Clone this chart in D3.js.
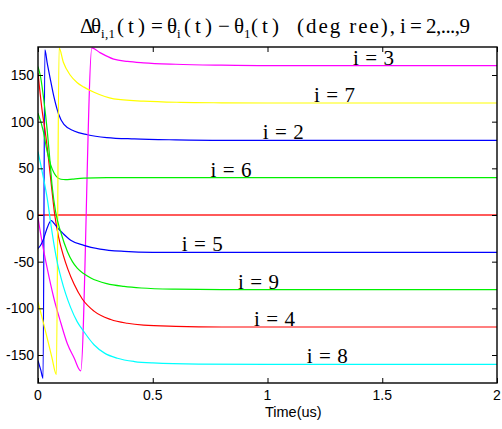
<!DOCTYPE html>
<html>
<head>
<meta charset="utf-8">
<script src="https://cdnjs.cloudflare.com/ajax/libs/d3/7.8.5/d3.min.js"></script>
<style>
  body { margin: 0; background: #fff; }
  .tick-label { font-family: "Liberation Sans", Arial, sans-serif; font-size: 14px; fill: #000; }
  .curve-label { font-family: "Liberation Serif", "Times New Roman", serif; font-size: 21px; fill: #000; }
  .title { font-family: "Liberation Serif", "Times New Roman", serif; fill: #000; }
</style>
</head>
<body>
<div id="chart"></div>
<script>
var svgWidth = 502;
var svgHeight = 429;

var margin = { top: 47, right: 5, bottom: 46, left: 38 };
var width = svgWidth - margin.left - margin.right;
var height = svgHeight - margin.top - margin.bottom;

// tick values
var xTicks = [0, 0.5, 1, 1.5, 2];
var xTickLabels = ["0", "0.5", "1", "1.5", "2"];
var yTicks = [-150, -100, -50, 0, 50, 100, 150];
var yTickLabels = ["-150", "-100", "-50", "0", "50", "100", "150"];

// phase differences [time (us), degrees]
var dtheta1 = [[0, 0], [2, 0]];
var dtheta2 = [[0, -156], [0.012, -166], [0.022, -175], [0.03, 177], [0.04, 163], [0.055, 144], [0.07, 126],
  [0.09, 108], [0.113, 97], [0.157, 90], [0.215, 86], [0.3, 83], [0.42, 81.5], [0.6, 80.5], [0.8, 80], [2, 80]];
var dtheta3 = [[0, -3], [0.02, -32], [0.04, -57], [0.07, -90], [0.1, -116], [0.128, -138], [0.157, -153], [0.186, -167],
  [0.235, 179], [0.27, 174], [0.33, 167], [0.39, 164.5], [0.46, 163], [0.6, 161.5], [0.8, 160.5], [1.0, 160], [2, 160]];
var dtheta4 = [[0, 152], [0.02, 108], [0.03, 92], [0.045, 62], [0.06, 28], [0.073, 0], [0.09, -24], [0.11, -43],
  [0.13, -58], [0.157, -74], [0.193, -90], [0.244, -103], [0.317, -112], [0.389, -116], [0.46, -118], [0.6, -119.3],
  [0.8, -120], [2, -120]];
var dtheta5 = [[0, -36], [0.01, -33], [0.022, -27], [0.037, -16], [0.05, -8], [0.058, -6], [0.07, -9], [0.09, -15],
  [0.11, -20], [0.1425, -27], [0.2, -32.5], [0.27, -36.5], [0.375, -39], [0.5, -40], [2, -40]];
var dtheta6 = [[0, 109], [0.023, 90], [0.04, 68], [0.055, 54], [0.07, 45], [0.085, 40], [0.1, 38.3], [0.12, 37.8],
  [0.15, 38.5], [0.2, 39.5], [0.3, 40], [2, 40]];
var dtheta7 = [[0, -93], [0.02, -112], [0.04, -132], [0.06, -152], [0.08, -171], [0.092, 179], [0.11, 164],
  [0.14, 150], [0.17, 142], [0.2, 137], [0.244, 131.5], [0.33, 124.5], [0.46, 122], [0.62, 120.7], [0.8, 120.2],
  [1.0, 120], [2, 120]];
var dtheta8 = [[0, 68], [0.012, 54], [0.025, 38], [0.04, 18], [0.055, -8], [0.07, -32], [0.085, -52], [0.1, -67],
  [0.12, -84], [0.142, -99], [0.17, -114], [0.2, -125], [0.244, -139], [0.29, -148], [0.346, -153.5], [0.42, -157],
  [0.5, -158.5], [0.7, -159.7], [1.0, -160], [2, -160]];
var dtheta9 = [[0, 159], [0.012, 147], [0.026, 122], [0.04, 91], [0.05, 64], [0.062, 30], [0.077, 3], [0.1, -19],
  [0.128, -39], [0.15, -50], [0.171, -57], [0.2, -63], [0.23, -67.5], [0.3, -73.5], [0.375, -76.5], [0.45, -78.2],
  [0.6, -79.5], [0.8, -80], [2, -80]];

var seriesData = [dtheta1, dtheta2, dtheta3, dtheta4, dtheta5, dtheta6, dtheta7, dtheta8, dtheta9];
var seriesColors = ["#ff5a5a", "#0000ff", "#ff00ff", "#ff0000", "#0000ff", "#00f000", "#ffff00", "#00ffff", "#00f000"];

// curve labels: index i, time where the label starts
var labelIndex = [2, 3, 4, 5, 6, 7, 8, 9];
var labelTime = [0.979, 1.373, 0.941, 0.626, 0.752, 1.203, 1.171, 0.871];

var svg = d3.select("#chart")
  .append("svg")
  .attr("width", svgWidth)
  .attr("height", svgHeight);

svg.append("rect").attr("width", svgWidth).attr("height", svgHeight).attr("fill", "#fff");

var chartGroup = svg.append("g")
  .attr("transform", `translate(${margin.left}, ${margin.top})`);

var xScale = d3.scaleLinear().domain([0, 2]).range([0, width]);
var yScale = d3.scaleLinear().domain([-180, 180]).range([height, 0]);

svg.append("defs").append("clipPath").attr("id", "plotClip")
  .append("rect").attr("width", width).attr("height", height);

// lines
var line = d3.line()
  .x(d => xScale(d[0]))
  .y(d => yScale(d[1]))
  .curve(d3.curveMonotoneX);

var lines = chartGroup.append("g").attr("clip-path", "url(#plotClip)");
seriesData.forEach(function(s, i) {
  lines.append("path")
    .datum(s)
    .attr("d", line)
    .attr("fill", "none")
    .attr("stroke", seriesColors[i])
    .attr("stroke-width", i === 0 ? 2 : 1.2);
});

// axes, MATLAB style ticks pointing inward on all four sides
chartGroup.append("g")
  .attr("transform", `translate(0, ${height})`)
  .call(d3.axisBottom(xScale).tickValues(xTicks).tickSize(-5).tickFormat(""))
  .call(g => g.select(".domain").remove());
chartGroup.append("g")
  .call(d3.axisTop(xScale).tickValues(xTicks).tickSize(-5).tickFormat(""))
  .call(g => g.select(".domain").remove());
chartGroup.append("g")
  .call(d3.axisLeft(yScale).tickValues(yTicks).tickSize(-5).tickFormat(""))
  .call(g => g.select(".domain").remove());
chartGroup.append("g")
  .attr("transform", `translate(${width}, 0)`)
  .call(d3.axisRight(yScale).tickValues(yTicks).tickSize(-5).tickFormat(""))
  .call(g => g.select(".domain").remove());
chartGroup.selectAll(".tick line").attr("stroke", "#000").attr("stroke-width", 1);

chartGroup.append("rect")
  .attr("width", width)
  .attr("height", height)
  .attr("fill", "none")
  .attr("stroke", "#000")
  .attr("stroke-width", 1.4);

// tick labels
chartGroup.selectAll(".xlab")
  .data(xTicks)
  .enter()
  .append("text")
  .attr("class", "tick-label")
  .attr("x", d => xScale(d))
  .attr("y", height + 17)
  .attr("text-anchor", "middle")
  .text((d, i) => xTickLabels[i]);

chartGroup.selectAll(".ylab")
  .data(yTicks)
  .enter()
  .append("text")
  .attr("class", "tick-label")
  .attr("x", -4)
  .attr("y", d => yScale(d) + 5)
  .attr("text-anchor", "end")
  .text((d, i) => yTickLabels[i]);

svg.append("text")
  .attr("class", "tick-label")
  .style("font-size", "14.5px")
  .attr("x", 265)
  .attr("y", 417)
  .text("Time(us)");

// curve labels
chartGroup.selectAll(".clab")
  .data(labelIndex)
  .enter()
  .append("text")
  .attr("class", "curve-label")
  .attr("x", (d, i) => xScale(labelTime[i]))
  .attr("y", d => {
    var s = seriesData[d - 1];
    return yScale(s[s.length - 1][1]) - 1;
  })
  .attr("textLength", 41)
  .attr("lengthAdjust", "spacing")
  .text(d => "i = " + d);

// title
var titleParts = [
  { t: "\u0394\u03b8", x: 80, w: 21 },
  { t: "i,1", x: 101, w: 14, sub: true },
  { t: "(t)", x: 117, w: 28 },
  { t: "=", x: 151, w: 12 },
  { t: "\u03b8", x: 167, w: 10 },
  { t: "i", x: 177, w: 4, sub: true },
  { t: "(t)", x: 184, w: 28 },
  { t: "\u2212", x: 218, w: 12 },
  { t: "\u03b8", x: 234, w: 10 },
  { t: "1", x: 244, w: 6, sub: true },
  { t: "(t)", x: 251, w: 28 },
  { t: "(deg ree),", x: 297, w: 98 },
  { t: "i = 2,...,9", x: 400, w: 70 }
];
var title = svg.append("g").attr("class", "title");
titleParts.forEach(function(p) {
  title.append("text")
    .attr("x", p.x)
    .attr("y", p.sub ? 38 : 33)
    .style("font-size", p.sub ? "13px" : "21px")
    .attr("textLength", p.w)
    .attr("lengthAdjust", "spacing")
    .text(p.t);
});
</script>
</body>
</html>
